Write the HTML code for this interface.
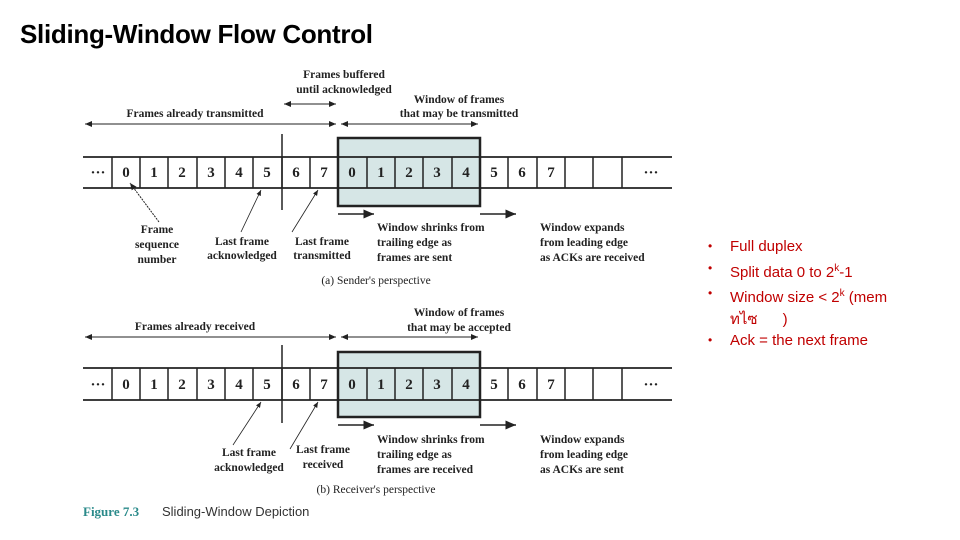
<!DOCTYPE html>
<html><head><meta charset="utf-8"><style>
body{margin:0;width:960px;height:540px;background:#fff;overflow:hidden;position:relative;font-family:"Liberation Sans",sans-serif}
h1{position:absolute;left:20px;top:19px;margin:0;font-size:26px;font-weight:bold;color:#000;letter-spacing:-0.3px}
ul{position:absolute;left:708px;top:236px;margin:0;padding:0;list-style:none;color:#c00000;font-size:15px;line-height:21.5px}
ul li{padding-left:22px;position:relative}
ul li:before{content:"•";position:absolute;left:0;font-size:12px}
sup{font-size:10px}
svg{position:absolute;left:0;top:0}
</style></head><body>
<h1>Sliding-Window Flow Control</h1>
<ul>
<li>Full duplex</li>
<li>Split data 0 to 2<sup>k</sup>-1</li>
<li>Window size &lt; 2<sup>k</sup> (mem<br>ทไซ&nbsp;&nbsp;&nbsp;&nbsp;&nbsp;&nbsp;)</li>
<li>Ack = the next frame</li>
</ul>
<svg width="960" height="540" font-family="Liberation Serif,serif" fill="#222">
<defs><marker id="a" markerWidth="7" markerHeight="6" refX="7" refY="3" orient="auto-start-reverse"><path d="M0,0L7,3L0,6z" fill="#222"/></marker></defs>

<rect x="338" y="138" width="142" height="68" fill="#d6e6e6" stroke="#222" stroke-width="2.5"/>
<line x1="83" y1="157" x2="672" y2="157" stroke="#222" stroke-width="1.8"/>
<line x1="83" y1="188" x2="672" y2="188" stroke="#222" stroke-width="1.8"/>
<g stroke="#222" stroke-width="1.5">
<path d="M112 157V188M140 157V188M168 157V188M197 157V188M225 157V188M253 157V188M282 157V188M310 157V188M367 157V188M395 157V188M423 157V188M452 157V188M508 157V188M537 157V188M565 157V188M593 157V188M622 157V188"/>
<line x1="282" y1="134" x2="282" y2="210"/>
</g>
<g font-size="15" font-weight="bold" text-anchor="middle">
<text x="98" y="177">···</text><text x="126" y="177">0</text><text x="154" y="177">1</text><text x="182" y="177">2</text><text x="211" y="177">3</text><text x="239" y="177">4</text><text x="267" y="177">5</text><text x="296" y="177">6</text><text x="324" y="177">7</text><text x="352" y="177">0</text><text x="381" y="177">1</text><text x="409" y="177">2</text><text x="437" y="177">3</text><text x="466" y="177">4</text><text x="494" y="177">5</text><text x="522" y="177">6</text><text x="551" y="177">7</text><text x="651" y="177">···</text>
</g>
<g stroke="#222" stroke-width="1" fill="none">
<line x1="85" y1="124" x2="336" y2="124" marker-start="url(#a)" marker-end="url(#a)"/>
<line x1="284" y1="104" x2="336" y2="104" marker-start="url(#a)" marker-end="url(#a)"/>
<line x1="341" y1="124" x2="478" y2="124" marker-start="url(#a)" marker-end="url(#a)"/>
<line x1="159" y1="222" x2="130" y2="183" marker-end="url(#a)" stroke-dasharray="2,1"/>
<line x1="241" y1="232" x2="261" y2="190" marker-end="url(#a)" stroke-width="0.8"/>
<line x1="292" y1="232" x2="318" y2="190" marker-end="url(#a)" stroke-width="0.8"/>
<line x1="338" y1="214" x2="374" y2="214" marker-end="url(#a)" stroke-width="1.5"/>
<line x1="480" y1="214" x2="516" y2="214" marker-end="url(#a)" stroke-width="1.5"/>
</g>
<g font-size="11.5" font-weight="bold" text-anchor="middle">
<text x="344" y="78">Frames buffered</text><text x="344" y="93">until acknowledged</text>
<text x="195" y="117">Frames already transmitted</text>
<text x="459" y="103">Window of frames</text><text x="459" y="117">that may be transmitted</text>
<text x="157" y="233">Frame</text><text x="157" y="248">sequence</text><text x="157" y="263">number</text>
<text x="242" y="245">Last frame</text><text x="242" y="259">acknowledged</text>
<text x="322" y="245">Last frame</text><text x="322" y="259">transmitted</text>
<text x="377" y="231" text-anchor="start">Window shrinks from</text><text x="377" y="246" text-anchor="start">trailing edge as</text><text x="377" y="261" text-anchor="start">frames are sent</text>
<text x="540" y="231" text-anchor="start">Window expands</text><text x="540" y="246" text-anchor="start">from leading edge</text><text x="540" y="261" text-anchor="start">as ACKs are received</text>
<text x="376" y="284" font-weight="normal">(a) Sender's perspective</text>
</g>

<rect x="338" y="352" width="142" height="65" fill="#d6e6e6" stroke="#222" stroke-width="2.5"/>
<line x1="83" y1="368" x2="672" y2="368" stroke="#222" stroke-width="1.8"/>
<line x1="83" y1="400" x2="672" y2="400" stroke="#222" stroke-width="1.8"/>
<g stroke="#222" stroke-width="1.5">
<path d="M112 368V400M140 368V400M168 368V400M197 368V400M225 368V400M253 368V400M282 368V400M310 368V400M367 368V400M395 368V400M423 368V400M452 368V400M508 368V400M537 368V400M565 368V400M593 368V400M622 368V400"/>
<line x1="282" y1="345" x2="282" y2="423"/>
</g>
<g font-size="15" font-weight="bold" text-anchor="middle">
<text x="98" y="389">···</text><text x="126" y="389">0</text><text x="154" y="389">1</text><text x="182" y="389">2</text><text x="211" y="389">3</text><text x="239" y="389">4</text><text x="267" y="389">5</text><text x="296" y="389">6</text><text x="324" y="389">7</text><text x="352" y="389">0</text><text x="381" y="389">1</text><text x="409" y="389">2</text><text x="437" y="389">3</text><text x="466" y="389">4</text><text x="494" y="389">5</text><text x="522" y="389">6</text><text x="551" y="389">7</text><text x="651" y="389">···</text>
</g>
<g stroke="#222" stroke-width="1" fill="none">
<line x1="85" y1="337" x2="336" y2="337" marker-start="url(#a)" marker-end="url(#a)"/>
<line x1="341" y1="337" x2="478" y2="337" marker-start="url(#a)" marker-end="url(#a)"/>
<line x1="233" y1="445" x2="261" y2="402" marker-end="url(#a)" stroke-width="0.8"/>
<line x1="290" y1="449" x2="318" y2="402" marker-end="url(#a)" stroke-width="0.8"/>
<line x1="338" y1="425" x2="374" y2="425" marker-end="url(#a)" stroke-width="1.5"/>
<line x1="480" y1="425" x2="516" y2="425" marker-end="url(#a)" stroke-width="1.5"/>
</g>
<g font-size="11.5" font-weight="bold" text-anchor="middle">
<text x="195" y="330">Frames already received</text>
<text x="459" y="316">Window of frames</text><text x="459" y="331">that may be accepted</text>
<text x="249" y="456">Last frame</text><text x="249" y="471">acknowledged</text>
<text x="323" y="453">Last frame</text><text x="323" y="468">received</text>
<text x="377" y="443" text-anchor="start">Window shrinks from</text><text x="377" y="458" text-anchor="start">trailing edge as</text><text x="377" y="473" text-anchor="start">frames are received</text>
<text x="540" y="443" text-anchor="start">Window expands</text><text x="540" y="458" text-anchor="start">from leading edge</text><text x="540" y="473" text-anchor="start">as ACKs are sent</text>
<text x="376" y="493" font-weight="normal">(b) Receiver's perspective</text>
</g>
<text x="83" y="516" font-size="13" font-weight="bold" fill="#2a8a8a">Figure 7.3</text>
<text x="162" y="516" font-size="13" fill="#333" font-family="Liberation Sans,sans-serif">Sliding-Window Depiction</text>
</svg>
</body></html>
